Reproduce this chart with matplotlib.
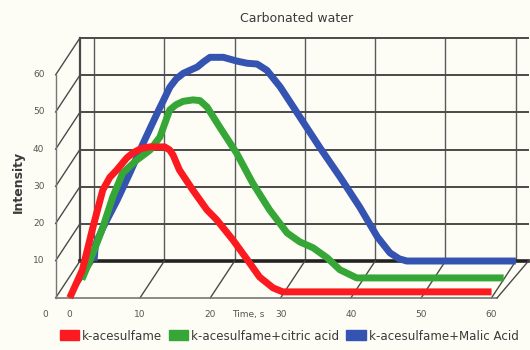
import numpy as np
import matplotlib.pyplot as plt
from matplotlib.transforms import Affine2D
import matplotlib.patches as mpatches

# time (s) / intensity, each series sits at its own depth row
red_t = [0, 1.8, 3.3, 4.7, 5.7, 6.7, 8.1, 9.0, 10.2, 11.4, 13.5, 14.2, 14.7, 15.6, 17.5, 19.5, 20.9, 23.2, 25.2,
         27.0, 28.9, 30.3, 40, 50, 60]
red_i = [0, 7.5, 19, 29, 32.4, 34.4, 37.6, 39, 40.2, 40.6, 40.6, 39.8, 38.4, 34.4, 29, 23.7, 21, 15.6, 10.4,
         5.6, 2.7, 1.6, 1.6, 1.6, 1.6]

green_t = [0, 1.6, 3.0, 4.4, 5.8, 7.8, 9.7, 11.1, 12.5, 13.4, 14.4, 15.8, 16.8, 17.8, 19.6, 22.0, 24.3, 26.7, 29.2,
           31.0, 32.9, 34.9, 36.7, 39.1, 50, 60]
green_i = [0, 7.1, 14.1, 22.2, 28.6, 32.1, 34.8, 38.3, 45.6, 47.0, 47.9, 48.3, 48.1, 46.4, 41, 34, 25.9, 18.7, 12.5,
           10.1, 8.5, 5.8, 2.6, 0.4, 0.4, 0.4]

blue_t = [0, 0.2, 1.3, 3.3, 5.1, 7.0, 9.0, 10.8, 11.7, 12.7, 14.7, 15.6, 16.5, 18.4, 20.3, 21.8, 23.2, 24.6, 26.5,
          29.3, 32.1, 35.0, 37.8, 40.3, 42.1, 43.4, 44.5, 50, 60]
blue_i = [0, 4.3, 9.1, 16.4, 23.7, 31.7, 39.8, 46.8, 49.0, 50.5, 52.2, 53.6, 54.8, 54.8, 53.8, 53.2, 53.0, 51.3, 46.8,
          38.7, 30.6, 22.6, 14.5, 6.5, 2.2, 0.6, 0, 0, 0]

labels = ['k-acesulfame', 'k-acesulfame+citric acid', 'k-acesulfame+Malic Acid']
colors = ['#fb1a1f', '#36a636', '#3553b0']
depths = [1.0, 0.5, 0.0]

t_ticks = [0, 10, 20, 30, 40, 50, 60]
i_ticks = [0, 10, 20, 30, 40, 50, 60]

DT, DI = -3.45, -9.9   # shift from back wall to front edge of the floor
t_left, t_right = -2, 61.8

bg = '#fdfdf6'
grid_c = '#4a4a4a'
txt_c = '#3a3a3a'

fig = plt.figure(figsize=(5.3, 3.5), dpi=100, facecolor=bg)
ax = fig.add_axes([0, 0, 1, 1])
ax.set_xlim(-13.37, 62.02)
ax.set_ylim(-23.94, 70.22)
ax.axis('off')


def depth(d):
	return Affine2D().translate(d * DT, d * DI) + ax.transData


# back wall
for t in t_ticks:
	ax.plot([t, t], [0, 60], color='#5a5a5a', lw=1.0, zorder=1)
ax.plot([t_left, t_left], [0, 60], color=grid_c, lw=1.6, zorder=1)
for i in i_ticks:
	ax.plot([t_left, t_right], [i, i], color='#222222' if i == 0 else grid_c, lw=2.6 if i == 0 else 1.4, zorder=1)

# left wall
for i in i_ticks:
	ax.plot([t_left, t_left + DT], [i, i + DI], color=grid_c, lw=1.0, zorder=1)
ax.plot([t_left, t_left], [0, 60], transform=depth(1), color='#777777', lw=1.0, zorder=1)

# floor
for t in t_ticks:
	ax.plot([t, t + DT], [0, DI], color=grid_c, lw=1.0, zorder=1)
ax.plot([t_left, 60.8], [0, 0], transform=depth(1), color='#777777', lw=1.2, zorder=1)
ax.plot([t_right, 60.8 + DT], [0, DI], color=grid_c, lw=1.0, zorder=1)

# series, back to front
for tt, ii, c, d in zip([blue_t, green_t, red_t], [blue_i, green_i, red_i], colors[::-1], depths[::-1]):
	ax.plot(tt, ii, color=c, lw=5, transform=depth(d), solid_capstyle='butt', solid_joinstyle='round', zorder=3)

# tick labels on the front edges
for i in i_ticks[1:]:
	ax.text(-3.6, i, str(i), transform=depth(1), ha='right', va='center', fontsize=6.5, color='#555555')
ax.text(-3.5, -4.6, '0', transform=depth(1), ha='center', va='center', fontsize=6.5, color='#555555')
for t in t_ticks:
	ax.text(t, -4.6, str(t), transform=depth(1), ha='center', va='center', fontsize=6.5, color='#555555')
ax.text(25.4, -4.6, 'Time, s', transform=depth(1), ha='center', va='center', fontsize=6.5, color='#555555')

fig.text(18 / 530, 1 - 182 / 350, 'Intensity', rotation=90, ha='center', va='center',
         fontsize=9, fontweight='bold', color=txt_c)
fig.text(297 / 530, 1 - 18 / 350, 'Carbonated water', ha='center', va='center', fontsize=9, color=txt_c)

handles = [mpatches.Patch(color=c, label=lab) for c, lab in zip(colors, labels)]
fig.legend(handles=handles, loc='center', bbox_to_anchor=(289 / 530, 1 - 336 / 350), ncol=3, frameon=False,
           fontsize=8.6, handlelength=1.6, handleheight=0.9, handletextpad=0.25, columnspacing=0.6,
           labelcolor=txt_c, borderaxespad=0)

fig.savefig('out.png', dpi=100, facecolor=bg)
